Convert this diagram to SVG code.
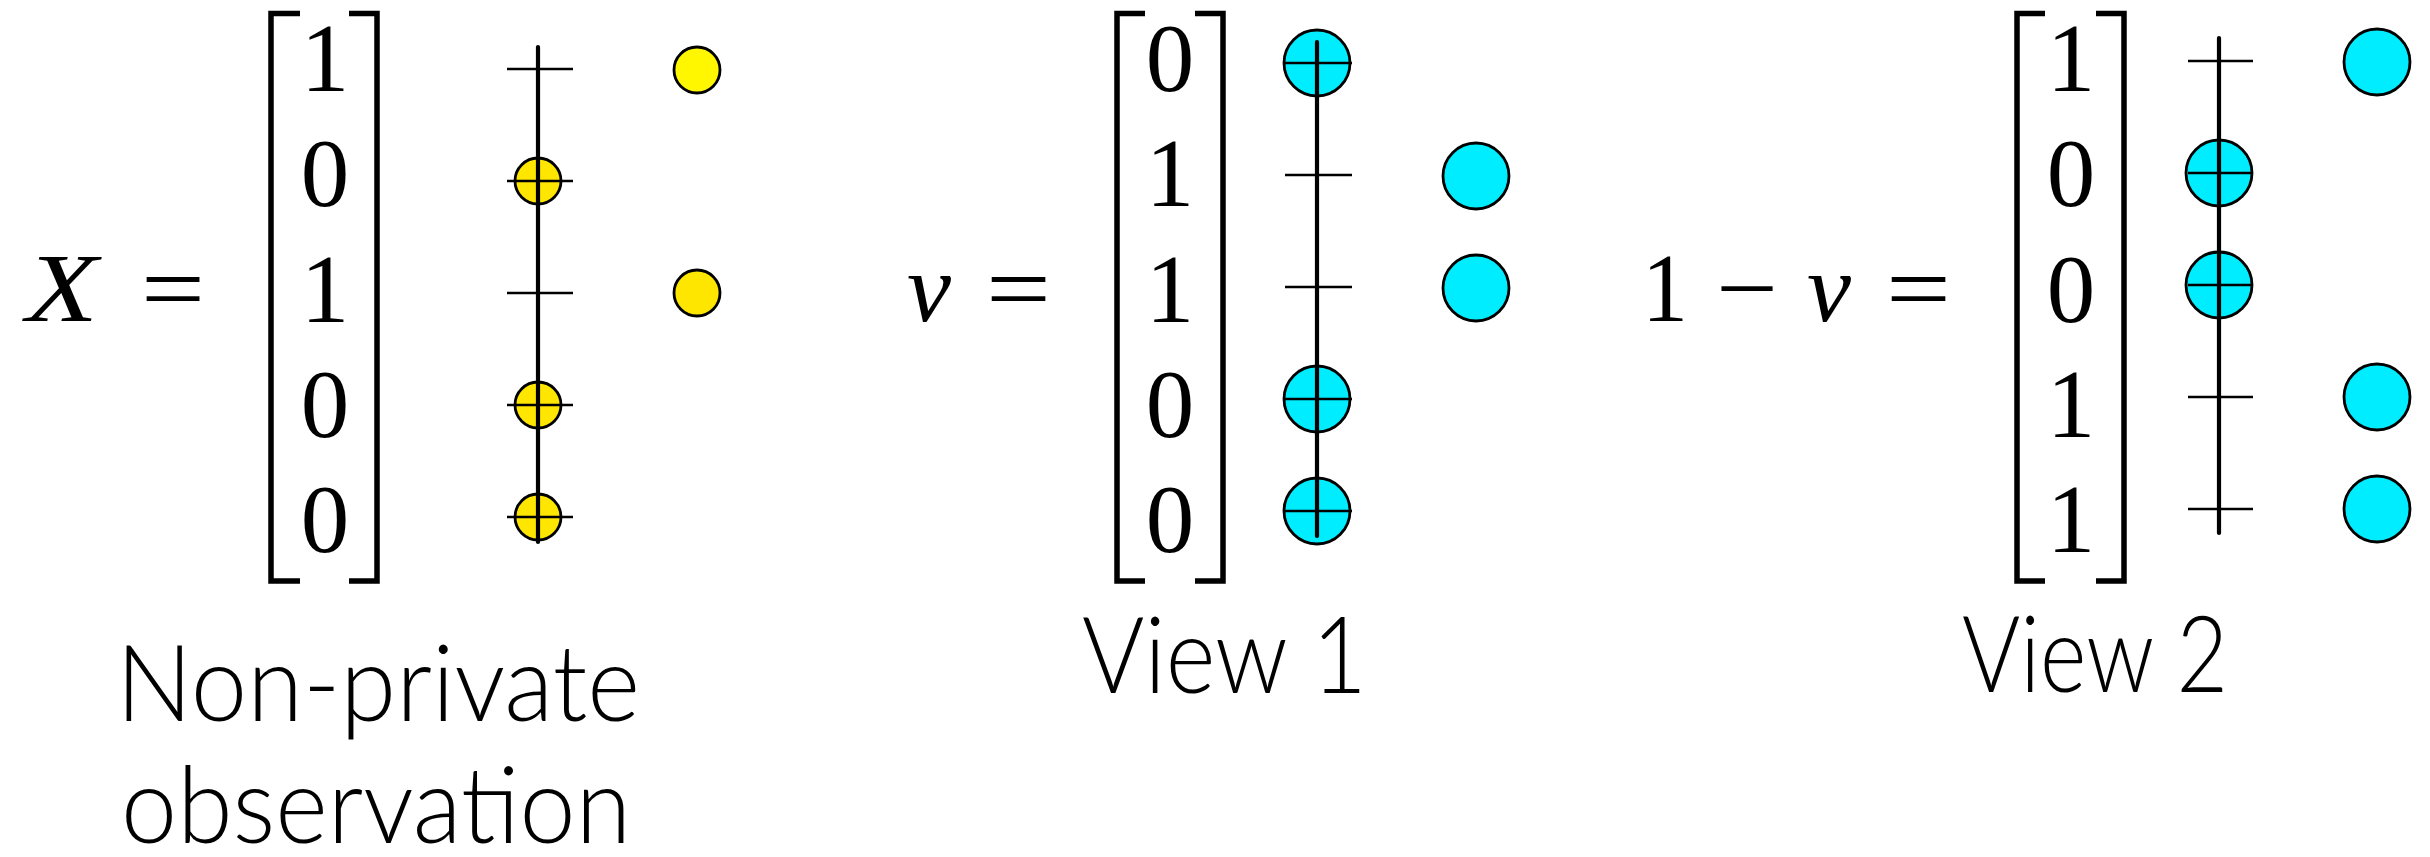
<svg xmlns="http://www.w3.org/2000/svg" width="2430" height="857" viewBox="0 0 2430 857">
<style>
.math{font-family:"Liberation Serif","Times New Roman",serif;font-size:97px;fill:#000;font-weight:normal}
.dig{text-anchor:middle}
.it{font-style:italic}
.br{fill:none;stroke:#000;stroke-width:5.5;stroke-linejoin:miter}
.axis{stroke:#000;stroke-width:4.2;stroke-linecap:round}
.tick{stroke:#000;stroke-width:2.4}
.yl{fill:#FFE600;stroke:#000;stroke-width:2.8}
.yl2{fill:#FFF700;stroke:#000;stroke-width:2.8}
.cy{fill:#00ECFF;stroke:#000;stroke-width:2.8}
.lbl{font-family:Lato,"Open Sans",sans-serif;font-weight:300;font-size:106px;fill:#000}
</style>
<rect width="2430" height="857" fill="#fff"/>

<g id="panel-x">
  <g id="eq-x">
    <text class="math it" x="26" y="321" font-size="100" textLength="72" lengthAdjust="spacingAndGlyphs">X</text>
    <text class="math" x="141" y="321" textLength="64" lengthAdjust="spacingAndGlyphs">=</text>
  </g>
  <g id="matrix-x">
    <path class="br" d="M300 13.5H271V581H300"/>
    <path class="br" d="M349 13.5H377V581H349"/>
    <text class="math dig" x="325" y="91">1</text>
    <text class="math dig" x="325" y="206">0</text>
    <text class="math dig" x="325" y="321.5">1</text>
    <text class="math dig" x="325" y="437">0</text>
    <text class="math dig" x="325" y="552">0</text>
  </g>
  <g id="axis-x">
    <circle class="yl" cx="538" cy="181" r="23"/>
    <circle class="yl" cx="538" cy="405" r="23"/>
    <circle class="yl" cx="538" cy="517" r="23"/>
    <line class="axis" x1="538" y1="47" x2="538" y2="542"/>
    <line class="tick" x1="507" y1="69" x2="573" y2="69"/>
    <line class="tick" x1="507" y1="181" x2="573" y2="181"/>
    <line class="tick" x1="507" y1="293" x2="573" y2="293"/>
    <line class="tick" x1="507" y1="405" x2="573" y2="405"/>
    <line class="tick" x1="507" y1="517" x2="573" y2="517"/>
  </g>
  <g id="points-x">
    <circle class="yl2" cx="697" cy="70" r="23"/>
    <circle class="yl" cx="697" cy="293" r="23"/>
  </g>
  <g id="label-x">
    <text class="lbl" x="116" y="721" textLength="524" lengthAdjust="spacingAndGlyphs">Non-private</text>
    <text class="lbl" x="121" y="843" textLength="510" lengthAdjust="spacingAndGlyphs">observation</text>
  </g>
</g>

<g id="panel-view1">
  <g id="eq-v1">
    <text class="math it" x="907" y="321" textLength="44" lengthAdjust="spacingAndGlyphs">v</text>
    <text class="math" x="986" y="321" textLength="65" lengthAdjust="spacingAndGlyphs">=</text>
  </g>
  <g id="matrix-v1">
    <path class="br" d="M1145 13.5H1117V581H1145"/>
    <path class="br" d="M1195 13.5H1223V581H1195"/>
    <text class="math dig" x="1170" y="91">0</text>
    <text class="math dig" x="1170" y="206">1</text>
    <text class="math dig" x="1170" y="321.5">1</text>
    <text class="math dig" x="1170" y="437">0</text>
    <text class="math dig" x="1170" y="552">0</text>
  </g>
  <g id="axis-v1">
    <circle class="cy" cx="1317" cy="63" r="33"/>
    <circle class="cy" cx="1317" cy="399" r="33"/>
    <circle class="cy" cx="1317" cy="511" r="33"/>
    <line class="axis" x1="1317" y1="42" x2="1317" y2="536"/>
    <line class="tick" x1="1285" y1="63" x2="1352" y2="63"/>
    <line class="tick" x1="1285" y1="175" x2="1352" y2="175"/>
    <line class="tick" x1="1285" y1="287" x2="1352" y2="287"/>
    <line class="tick" x1="1285" y1="399" x2="1352" y2="399"/>
    <line class="tick" x1="1285" y1="511" x2="1352" y2="511"/>
  </g>
  <g id="points-v1">
    <circle class="cy" cx="1476" cy="176" r="33"/>
    <circle class="cy" cx="1476" cy="288" r="33"/>
  </g>
  <g id="label-v1">
    <text class="lbl" x="1082" y="693" textLength="285" lengthAdjust="spacingAndGlyphs">View 1</text>
  </g>
</g>

<g id="panel-view2">
  <g id="eq-v2">
    <text class="math" x="1642" y="321" textLength="46" lengthAdjust="spacingAndGlyphs">1</text>
    <text class="math" x="1716" y="321" textLength="62" lengthAdjust="spacingAndGlyphs">−</text>
    <text class="math it" x="1807" y="321" textLength="44" lengthAdjust="spacingAndGlyphs">v</text>
    <text class="math" x="1886" y="321" textLength="65" lengthAdjust="spacingAndGlyphs">=</text>
  </g>
  <g id="matrix-v2">
    <path class="br" d="M2045 13.5H2017V581H2045"/>
    <path class="br" d="M2096 13.5H2124V581H2096"/>
    <text class="math dig" x="2071" y="91">1</text>
    <text class="math dig" x="2071" y="206">0</text>
    <text class="math dig" x="2071" y="321.5">0</text>
    <text class="math dig" x="2071" y="437">1</text>
    <text class="math dig" x="2071" y="552">1</text>
  </g>
  <g id="axis-v2">
    <circle class="cy" cx="2219" cy="173" r="33"/>
    <circle class="cy" cx="2219" cy="285" r="33"/>
    <line class="axis" x1="2219" y1="38" x2="2219" y2="533"/>
    <line class="tick" x1="2188" y1="61" x2="2253" y2="61"/>
    <line class="tick" x1="2188" y1="173" x2="2253" y2="173"/>
    <line class="tick" x1="2188" y1="285" x2="2253" y2="285"/>
    <line class="tick" x1="2188" y1="397" x2="2253" y2="397"/>
    <line class="tick" x1="2188" y1="509" x2="2253" y2="509"/>
  </g>
  <g id="points-v2">
    <circle class="cy" cx="2377" cy="62" r="33"/>
    <circle class="cy" cx="2377" cy="397" r="33"/>
    <circle class="cy" cx="2377" cy="509" r="33"/>
  </g>
  <g id="label-v2">
    <text class="lbl" x="1962" y="692" textLength="266" lengthAdjust="spacingAndGlyphs">View 2</text>
  </g>
</g>

<g id="connectors"/>
</svg>
